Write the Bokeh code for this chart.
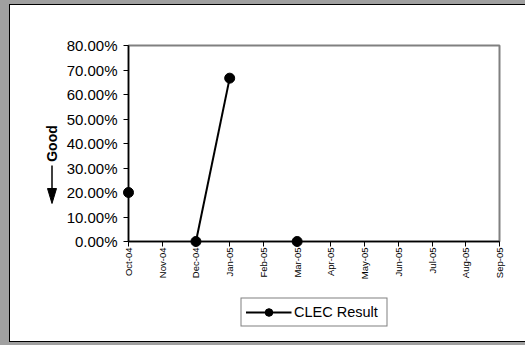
import math
from bokeh.plotting import figure
from bokeh.layouts import column
from bokeh.models import (Range1d, FixedTicker, NumeralTickFormatter, Legend, LegendItem)
from bokeh.embed import file_html
from bokeh.resources import INLINE

nan = float("nan")

# ---- data ----
months = ["Oct-04", "Nov-04", "Dec-04", "Jan-05", "Feb-05", "Mar-05",
          "Apr-05", "May-05", "Jun-05", "Jul-05", "Aug-05", "Sep-05"]
clec_result = [0.20, nan, 0.0, 0.6667, nan, 0.0, nan, nan, nan, nan, nan, nan]
y_ticks = [0.0, 0.1, 0.2, 0.3, 0.4, 0.5, 0.6, 0.7, 0.8]

FONT = "Liberation Sans"
FW, FH = 371, 196
OX, OY = 10, 5      # canvas origin on page
FL, FT = 128, 45    # frame left / top on page
MAIN_BOTTOM = 40    # border under the frame of the main figure
CW = 525 - OX       # canvas width
LEG_H = 340 - (FT + FH + MAIN_BOTTOM)

x_idx = list(range(len(months)))

fig = figure(output_backend="svg", toolbar_location=None,
             frame_width=FW, frame_height=FH,
             min_border_left=FL - OX, min_border_right=525 - FL - FW,
             min_border_top=FT - OY, min_border_bottom=MAIN_BOTTOM,
             x_range=Range1d(0, len(months) - 1), y_range=Range1d(0, 0.8),
             background_fill_color="white", border_fill_color="white")
fig.grid.visible = False
fig.outline_line_color = "#808080"
fig.outline_line_width = 2

# page pixel -> data coordinates (for decorations only)
def dx(px):
    return (px - FL) / FW * (len(months) - 1)

def dy(py):
    return (FT + FH - py) / FH * 0.8

fig.line(x_idx, clec_result, line_color="black", line_width=2)
fig.scatter(x_idx, clec_result, size=10, fill_color="black", line_color="black",
            level="overlay")

# axes
xa = fig.xaxis[0]
xa.ticker = FixedTicker(ticks=x_idx)
xa.major_label_overrides = {i: m for i, m in enumerate(months)}
xa.major_label_orientation = math.pi / 2
xa.major_label_text_font = FONT
xa.major_label_text_font_size = "9.5px"
xa.major_label_text_color = "black"
xa.major_label_standoff = 1
xa.major_tick_out = 5
xa.major_tick_in = 0
xa.minor_tick_out = 0
xa.minor_tick_in = 0
xa.axis_line_color = "black"
xa.axis_line_width = 1.5
xa.major_tick_line_color = "black"

ya = fig.yaxis[0]
ya.ticker = FixedTicker(ticks=y_ticks)
ya.formatter = NumeralTickFormatter(format="0.00%")
ya.major_label_text_font = FONT
ya.major_label_text_font_size = "15px"
ya.major_label_text_color = "black"
ya.major_label_standoff = 6
ya.major_tick_out = 5
ya.major_tick_in = 0
ya.minor_tick_out = 0
ya.minor_tick_in = 0
ya.axis_line_color = "black"
ya.axis_line_width = 1.5
ya.major_tick_line_color = "black"
ya.axis_label = "Good"
ya.axis_label_text_font = FONT
ya.axis_label_text_font_size = "14px"
ya.axis_label_text_font_style = "bold"
ya.axis_label_text_color = "black"
ya.axis_label_standoff = 4

# downward arrow under "Good" (decoration)
fig.segment(x0=[dx(51.5)], y0=[dy(165)], x1=[dx(51.5)], y1=[dy(191)],
            line_color="black", line_width=1.5, level="overlay")
fig.patch(x=[dx(47), dx(56), dx(51.5)], y=[dy(188), dy(188), dy(203)],
          fill_color="black", line_color="black", line_width=1, level="overlay")

# legend strip below the chart (its own canvas, so the box is not clipped)
leg_fig = figure(output_backend="svg", toolbar_location=None,
                 width=CW, height=LEG_H, min_border=0,
                 x_range=Range1d(100, 101), y_range=Range1d(100, 101),
                 x_axis_type=None, y_axis_type=None,
                 background_fill_color="white", border_fill_color="white")
leg_fig.grid.visible = False
leg_fig.outline_line_color = None
leg_line = leg_fig.line(x_idx, clec_result, line_color="black", line_width=2)
leg_dots = leg_fig.scatter(x_idx, clec_result, size=10, fill_color="black", line_color="black")

legend = Legend(items=[LegendItem(label="CLEC Result", renderers=[leg_line, leg_dots])],
                location="center", orientation="horizontal",
                border_line_color="black", border_line_width=1,
                background_fill_color="white", background_fill_alpha=1,
                label_text_font=FONT, label_text_font_size="14.5px", label_text_color="black",
                glyph_width=46, glyph_height=19, label_height=19, label_width=88,
                label_standoff=3, padding=4, spacing=0, margin=0)
leg_fig.add_layout(legend, "center")

mid = column(fig, leg_fig, spacing=0, styles={"background-color": "white"})
inner = column(mid, styles={"background-color": "black", "padding": "1px 0px 1px 1px"})
p = column(inner, styles={"background-color": "#A0A0A0", "padding": "4px 0px 4px 9px"})

open("out.html", "w").write(file_html(p, INLINE))
